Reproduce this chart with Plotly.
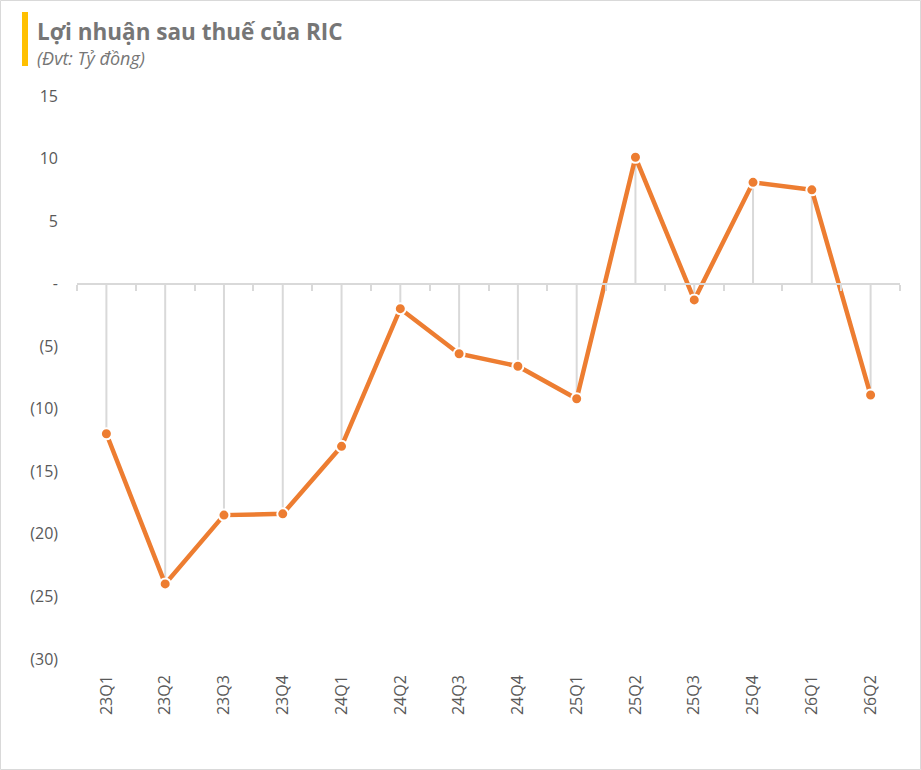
import plotly.graph_objects as go

# quarterly net profit after tax (bn VND)
quarters = ['23Q1', '23Q2', '23Q3', '23Q4', '24Q1', '24Q2', '24Q3',
            '24Q4', '25Q1', '25Q2', '25Q3', '25Q4', '26Q1', '26Q2']
profit = [-12.0, -24.0, -18.5, -18.4, -13.0, -2.0, -5.6,
          -6.6, -9.2, 10.1, -1.3, 8.1, 7.5, -8.9]

y_ticks = [15, 10, 5, 0, -5, -10, -15, -20, -25, -30]
y_labels = ['15', '10', '5', '-', '(5)', '(10)', '(15)', '(20)', '(25)', '(30)']

W, H = 921, 770
ml, mr, mt, mb = 77, 21, 96, 111
ymin, ymax = -30, 15

orange = '#ED7D31'
grid = '#d9d9d9'
font = 'Open Sans'

# drop lines from zero to each point
drop_x, drop_y = [], []
for q, v in zip(quarters, profit):
    drop_x += [q, q, None]
    drop_y += [0, v, None]

fig = go.Figure()
fig.add_trace(go.Scatter(x=drop_x, y=drop_y, mode='lines',
                         line=dict(color=grid, width=2),
                         hoverinfo='skip', showlegend=False))
fig.add_trace(go.Scatter(x=quarters, y=profit, mode='lines+markers',
                         line=dict(color=orange, width=4.5),
                         marker=dict(size=11, color=orange,
                                     line=dict(color='white', width=2)),
                         showlegend=False))
# invisible trace so the overlay axis (the zero line with ticks) gets drawn
fig.add_trace(go.Scatter(x=quarters, y=profit, xaxis='x2', mode='markers',
                         marker=dict(opacity=0), hoverinfo='skip',
                         showlegend=False))

zero_pos = (0 - ymin) / (ymax - ymin)
pw = W - ml - mr
ph = H - mt - mb

fig.update_layout(
    width=W, height=H,
    margin=dict(l=ml, r=mr, t=mt, b=mb),
    paper_bgcolor='white', plot_bgcolor='white',
    font=dict(family=font, color='#595959', size=14),
    xaxis=dict(type='category', categoryorder='array', categoryarray=quarters,
               range=[-0.5, len(quarters) - 0.5],
               showgrid=False, zeroline=False, showline=False,
               tickangle=-90, ticklabelstandoff=12,
               tickfont=dict(size=16, color='#595959')),
    xaxis2=dict(type='category', categoryorder='array', categoryarray=quarters,
                overlaying='x', anchor='free', position=zero_pos,
                range=[-0.5, len(quarters) - 0.5],
                showgrid=False, zeroline=False,
                showline=True, linecolor=grid, linewidth=2,
                ticks='outside', tickson='boundaries', ticklen=6,
                tickcolor=grid, tickwidth=1.5, showticklabels=False),
    yaxis=dict(range=[ymin, ymax], tickvals=y_ticks, ticktext=y_labels,
               showgrid=False, zeroline=False, showline=False,
               ticklabelstandoff=18, tickfont=dict(size=16, color='#595959')),
    shapes=[
        # yellow accent bar beside the title
        dict(type='rect', xref='paper', yref='paper',
             x0=(22 - ml) / pw, x1=(28 - ml) / pw,
             y0=1 + (mt - 12) / ph, y1=1 + (mt - 66) / ph,
             fillcolor='#FFC000', line=dict(width=0), layer='above'),
        # light frame around the whole picture
        dict(type='rect', xref='paper', yref='paper',
             x0=(0.5 - ml) / pw, x1=(W - 0.5 - ml) / pw,
             y0=1 + (mt - 0.5) / ph, y1=1 + (mt - H + 0.5) / ph,
             line=dict(color='#d9d9d9', width=1)),
    ],
    annotations=[
        dict(text='<b>Lợi nhuận sau thuế của RIC</b>', xref='paper', yref='paper',
             x=(35 - ml) / pw, y=1 + (mt - 31) / ph, xanchor='left', yanchor='middle',
             showarrow=False, font=dict(size=22.5, color='#767676', family=font)),
        dict(text='<i>(Đvt: Tỷ đồng)</i>', xref='paper', yref='paper',
             x=(35 - ml) / pw, y=1 + (mt - 58) / ph, xanchor='left', yanchor='middle',
             showarrow=False, font=dict(size=18, color='#767676', family=font)),
    ],
)

# drop the browser's default body margin so the chart sits at the page corner
fig.write_html('out.html', config={'displayModeBar': False},
               post_script="document.body.style.margin='0';")
